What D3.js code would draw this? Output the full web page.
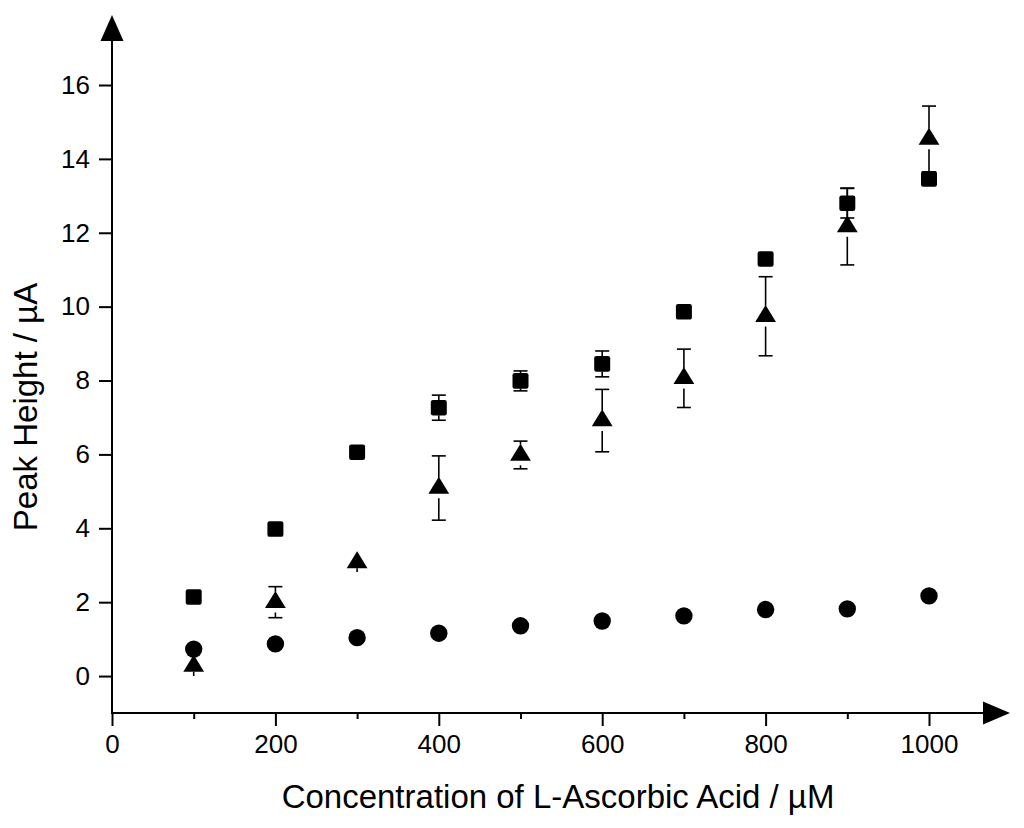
<!DOCTYPE html>
<html><head><meta charset="utf-8">
<script src="https://cdn.jsdelivr.net/npm/d3@7"></script>
<style>body{margin:0;background:#fff}svg{display:block}text{font-family:"Liberation Sans",Arial,Helvetica,sans-serif;fill:#000}</style>
</head><body>
<svg id="c" width="1024" height="828"></svg>
<script>
const conc = [100,200,300,400,500,600,700,800,900,1000];
const squareVals = [2.14,3.98,6.06,7.265,7.99,8.45,9.86,11.29,12.8,13.46];
const squareErr  = [0.1,0.1,0.1,0.34,0.27,0.35,0.1,0.1,0.4,0.2];
const triVals    = [0.27,2.0,3.07,5.09,5.985,6.915,8.06,9.74,12.17,14.54];
const triErr     = [0.27,0.42,0.25,0.87,0.375,0.845,0.79,1.07,1.04,0.89];
const circVals   = [0.73,0.87,1.04,1.16,1.36,1.49,1.63,1.80,1.82,2.17];
const circErr    = [0.05,0.05,0.05,0.22,0.05,0.05,0.05,0.05,0.1,0.05];
const xMajorTicks = [0,200,400,600,800,1000];
const xMinorTicks = [100,300,500,700,900];
const yTicks = [0,2,4,6,8,10,12,14,16];
const xTitle = "Concentration of L-Ascorbic Acid / µM";
const yTitle = "Peak Height / µA";

const svg = d3.select("#c");
const x = d3.scaleLinear().domain([0,1000]).range([112,929]);
const y = d3.scaleLinear().domain([-1,16]).range([713,85]);
const x0 = x(0), yb = y(-1);

// axes
const gx = svg.append("g").attr("transform",`translate(0,${yb})`)
  .call(d3.axisBottom(x).tickValues(xMajorTicks).tickSize(13).tickPadding(9).tickFormat(d3.format("d")));
gx.select(".domain").remove();
gx.selectAll("line").attr("stroke","#000").attr("stroke-width",2);
gx.selectAll("text").attr("font-size",26).attr("fill","#000").attr("font-family","Liberation Sans, Arial, sans-serif");
const gxm = svg.append("g").attr("transform",`translate(0,${yb})`)
  .call(d3.axisBottom(x).tickValues(xMinorTicks).tickSize(6).tickFormat(""));
gxm.select(".domain").remove();
gxm.selectAll("line").attr("stroke","#000").attr("stroke-width",2);

const gy = svg.append("g").attr("transform",`translate(${x0},0)`)
  .call(d3.axisLeft(y).tickValues(yTicks).tickSize(13).tickPadding(9));
gy.select(".domain").remove();
gy.selectAll("line").attr("stroke","#000").attr("stroke-width",2);
gy.selectAll("text").attr("font-size",26).attr("fill","#000").attr("font-family","Liberation Sans, Arial, sans-serif");

// axis lines with arrows
svg.append("line").attr("x1",x0).attr("x2",990).attr("y1",yb).attr("y2",yb).attr("stroke","#000").attr("stroke-width",2);
svg.append("line").attr("x1",x0).attr("x2",x0).attr("y1",yb+1).attr("y2",35).attr("stroke","#000").attr("stroke-width",2);
svg.append("path").attr("d",`M1010,${yb} L983,${yb-11.5} L983,${yb+11.5} Z`).attr("fill","#000");
svg.append("path").attr("d",`M${x0},15 L${x0-11.5},41 L${x0+11.5},41 Z`).attr("fill","#000");

// titles
svg.append("text").attr("x",558).attr("y",808).attr("text-anchor","middle").attr("font-size",33).text(xTitle);
svg.append("text").attr("transform",`translate(37,407) rotate(-90)`).attr("text-anchor","middle").attr("font-size",33).text(yTitle);

// series
function errBars(vals, errs, r, baseOff){
  const g = svg.append("g").attr("stroke","#000").attr("stroke-width",1.6);
  conc.forEach((c,i)=>{
    const cx = x(c), cy = y(vals[i]), top = y(vals[i]+errs[i]), bot = y(vals[i]-errs[i]);
    if (cy - top > r) {
      g.append("line").attr("x1",cx).attr("x2",cx).attr("y1",top).attr("y2",cy-r);
      g.append("line").attr("x1",cx-7).attr("x2",cx+7).attr("y1",top).attr("y2",top);
    }
    if (bot - cy > r) {
      g.append("line").attr("x1",cx).attr("x2",cx).attr("y1",cy+r).attr("y2",bot);
      g.append("line").attr("x1",cx-7).attr("x2",cx+7).attr("y1",bot).attr("y2",bot);
    } else if (bot - cy > baseOff + 1) {
      g.append("line").attr("x1",cx).attr("x2",cx).attr("y1",cy+baseOff).attr("y2",bot);
    }
  });
}
errBars(squareVals, squareErr, 7.5, 7.8);
errBars(triVals, triErr, 10.3, 5.7);
errBars(circVals, circErr, 8.5, 8.7);

svg.append("g").selectAll("rect").data(conc).join("rect")
  .attr("x",d=>x(d)-8).attr("y",(d,i)=>y(squareVals[i])-7.8).attr("width",16).attr("height",15.6)
  .attr("rx",2.2).attr("fill","#000");
svg.append("g").selectAll("path").data(conc).join("path")
  .attr("d",(d,i)=>{const cx=x(d), cy=y(triVals[i]); return `M${cx},${cy-11.3} L${cx+10.4},${cy+5.7} L${cx-10.4},${cy+5.7} Z`;})
  .attr("fill","#000");
svg.append("g").selectAll("circle").data(conc).join("circle")
  .attr("cx",d=>x(d)).attr("cy",(d,i)=>y(circVals[i])).attr("r",8.7).attr("fill","#000");
</script>
</body></html>
